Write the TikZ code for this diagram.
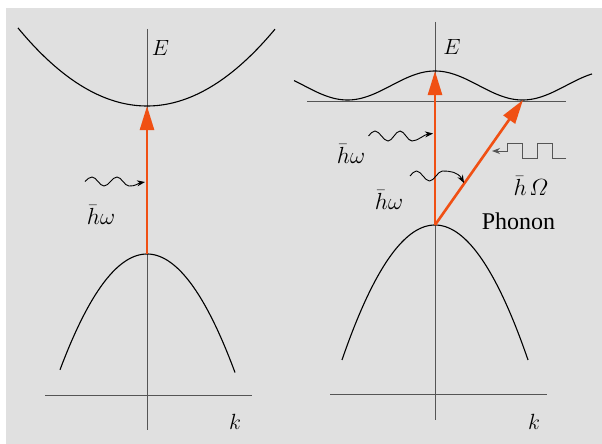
\RequirePackage{fix-cm}
\documentclass[tikz,border=0pt]{standalone}
\usepackage{fontspec}
\newfontfamily\tms{Liberation Serif}
\usetikzlibrary{arrows.meta}
\definecolor{bg}{RGB}{224,224,224}
\definecolor{photo}{RGB}{240,80,20}
\definecolor{axisgray}{RGB}{85,85,85}
\mathchardef\itOmega="010A
\begin{document}
\begin{tikzpicture}[x=1pt,y=-1pt,
  axis/.style={draw=axisgray,line width=1pt},
  band/.style={draw=black,line width=1.1pt},
  transition/.style={draw=photo,line width=2.6pt,-{Triangle[length=24pt,width=14pt]}},
  photon/.style={draw=black,line width=0.9pt,-{Stealth[length=8pt,width=6pt]}},
  phonon/.style={draw=axisgray,line width=1pt,-{Stealth[length=8pt,width=6pt]}},
  lab/.style={font=\fontsize{22}{26}\selectfont, inner sep=0pt},
  elab/.style={font=\fontsize{23.3}{28}\selectfont, inner sep=0pt}]
\useasboundingbox (0,0) rectangle (602,444);
\fill[bg] (6,8) rectangle (602,444);

% ---------- left panel ----------
\coordinate (LaxT) at (147,29);
\coordinate (LaxB) at (147,430);
\coordinate (LkL) at (45,395);
\coordinate (LkR) at (252,395);
\draw[axis] (LaxT) -- (LaxB);
\draw[axis] (LkL) -- (LkR);
\draw[band] plot[domain=18:275,samples=90] (\x,{106-0.469*((\x-147)/10)^2});
\draw[band] plot[domain=60:235,samples=90] (\x,{254+1.53*((\x-147)/10)^2});
\coordinate (Lv) at (147,254);
\coordinate (Lc) at (147,106);
\draw[transition] (Lv) -- (Lc);
\node[lab] (LE) at (160.5,47.5) {$E$};
\node[lab] (Lk) at (235,422) {$k$};
\coordinate (Lph) at (145,182);
\draw[photon] (85,181.5) sin (92,177) cos (98,181.5) sin (104,186) cos (110.5,181.5) sin (117,177) cos (123,181.5) sin (129,186)
  .. controls (135,186.5) and (139,183) .. (Lph);
\node[elab] (Lhw) at (101,215) {$\bar{h}\omega$};

% ---------- right panel ----------
\coordinate (RaxT) at (435,22);
\coordinate (RaxB) at (435,420);
\coordinate (RkL) at (330,394.5);
\coordinate (RkR) at (547,394.5);
\draw[axis] (RaxT) -- (RaxB);
\draw[axis] (RkL) -- (RkR);
\coordinate (RlL) at (307,101.5);
\coordinate (RlR) at (566,101.5);
\draw[axis] (RlL) -- (RlR);
\draw[band] plot[domain=294:592,samples=150] (\x,{85.5-14.5*cos(2.0571*(\x-435))});
\draw[band] plot[domain=342:528,samples=90] (\x,{225+1.56*((\x-435)/10)^2});
\coordinate (Rv) at (435,225);
\coordinate (Rc) at (435,71);
\coordinate (Rm) at (523,100);
\draw[transition] (Rv) -- (Rc);
\draw[transition] (Rv) -- (Rm);
\node[lab] (RE) at (452,47) {$E$};
\node[lab] (Rk) at (534,422) {$k$};

\coordinate (Rph1) at (433,133.5);
\draw[photon] (368.5,136) sin (375,131) cos (381.5,136) sin (388,141) cos (394,136) sin (400,131) cos (406,136) sin (412,141)
  .. controls (418,141) and (424,134.5) .. (Rph1);
\node[elab] (Rhw1) at (351,154) {$\bar{h}\omega$};

\coordinate (Rph2) at (464,183);
\draw[photon] (410,176) sin (416.5,171) cos (423,176) sin (429.5,181) cos (436,176) sin (442.5,171)
  .. controls (450,171) and (458,172) .. (Rph2);
\node[elab] (Rhw2) at (389,200) {$\bar{h}\omega$};

\coordinate (Rpn) at (492,151);
\draw[phonon] (566,158) -- (552,158) -- (552,143) -- (537,143) -- (537,158) -- (522,158) -- (522,143) -- (507,143) -- (507,151) -- (Rpn);
\node[elab] (RhO) at (531,186) {$\bar{h}\mkern2mu\itOmega$};
\node[inner sep=0pt,font=\tms\fontsize{24}{28}\selectfont] (Rphonon) at (518.5,221) {Phonon};
\end{tikzpicture}
\end{document}
